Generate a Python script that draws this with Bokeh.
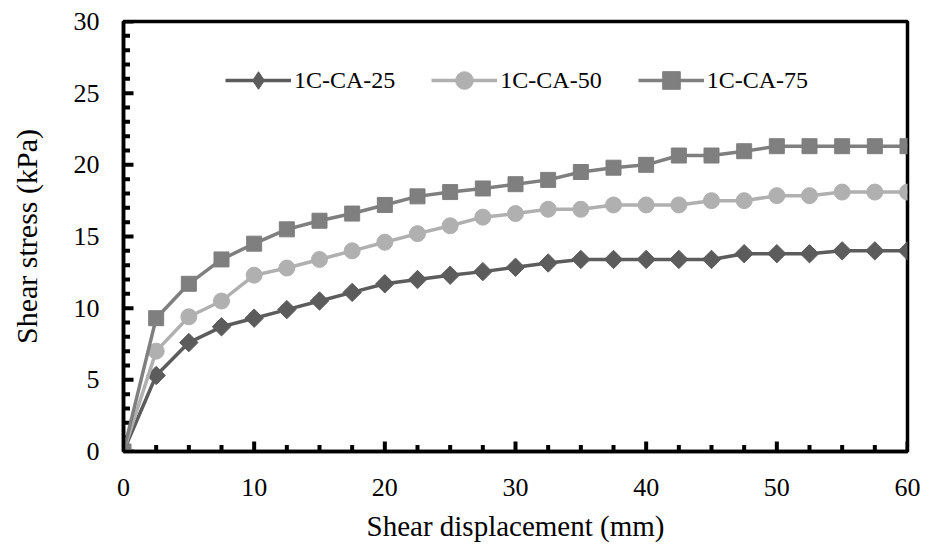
from bokeh.plotting import figure
from bokeh.models import SingleIntervalTicker, Legend, LegendItem
from bokeh.embed import file_html
from bokeh.resources import INLINE
import math

# ---- data ----
displacement = [0, 2.5, 5, 7.5, 10, 12.5, 15, 17.5, 20, 22.5, 25, 27.5, 30,
                32.5, 35, 37.5, 40, 42.5, 45, 47.5, 50, 52.5, 55, 57.5, 60]
ca25 = [0, 5.3, 7.6, 8.7, 9.3, 9.9, 10.5, 11.1, 11.7, 12.0, 12.3, 12.55, 12.85,
        13.15, 13.4, 13.4, 13.4, 13.4, 13.4, 13.8, 13.8, 13.8, 14.0, 14.0, 14.0]
ca50 = [0, 7.0, 9.4, 10.5, 12.3, 12.8, 13.4, 14.0, 14.6, 15.2, 15.75, 16.35, 16.6,
        16.9, 16.9, 17.2, 17.2, 17.2, 17.5, 17.5, 17.85, 17.85, 18.1, 18.1, 18.1]
ca75 = [0, 9.3, 11.7, 13.4, 14.5, 15.5, 16.1, 16.6, 17.2, 17.8, 18.1, 18.35, 18.65,
        18.95, 19.5, 19.8, 20.0, 20.65, 20.65, 20.95, 21.3, 21.3, 21.3, 21.3, 21.3]
series_names = ["1C-CA-25", "1C-CA-50", "1C-CA-75"]
x_title = "Shear displacement (mm)"
y_title = "Shear stress (kPa)"

x_major_ticks = [0, 10, 20, 30, 40, 50, 60]
x_minor_ticks = [2.5, 5, 7.5, 12.5, 15, 17.5, 22.5, 25, 27.5, 32.5, 35, 37.5,
                 42.5, 45, 47.5, 52.5, 55, 57.5]
y_major_ticks = [0, 5, 10, 15, 20, 25, 30]
y_minor_ticks = [1, 2, 3, 4, 6, 7, 8, 9, 11, 12, 13, 14, 16, 17, 18, 19,
                 21, 22, 23, 24, 26, 27, 28, 29]

FONT = "Liberation Serif"

p = figure(width=920, height=544, output_backend="svg", toolbar_location=None,
           x_range=(0, 60), y_range=(0, 30),
           min_border_left=123, min_border_right=13, min_border_top=21, min_border_bottom=92)
p.grid.visible = False
p.outline_line_color = "black"
p.outline_line_width = 3.5

p.xaxis.ticker = SingleIntervalTicker(interval=10, num_minor_ticks=4)
p.yaxis.ticker = SingleIntervalTicker(interval=5, num_minor_ticks=5)

for ax in (p.xaxis[0], p.yaxis[0]):
    ax.axis_line_width = 3.5
    ax.axis_line_color = "black"
    ax.major_tick_in = 0
    ax.major_tick_out = 0
    ax.minor_tick_in = 0
    ax.minor_tick_out = 0
    ax.major_label_text_font = FONT
    ax.major_label_text_font_size = "26px"
    ax.major_label_text_color = "black"
    ax.axis_label_text_font = FONT
    ax.axis_label_text_font_style = "normal"
    ax.axis_label_text_color = "black"

p.xaxis.axis_label = x_title
p.yaxis.axis_label = y_title
p.xaxis.axis_label_text_font_size = "29px"
p.yaxis.axis_label_text_font_size = "30px"
p.xaxis.major_label_standoff = 27
p.xaxis.axis_label_standoff = 11
p.yaxis.major_label_standoff = 24
p.yaxis.axis_label_standoff = 28

# inward tick marks (the outer half of each bar is clipped away by the frame)
p.rect(x_major_ticks, [0] * len(x_major_ticks), width=4, height=20,
       width_units="screen", height_units="screen", fill_color="black", line_color=None)
p.rect(x_minor_ticks, [0] * len(x_minor_ticks), width=4, height=13,
       width_units="screen", height_units="screen", fill_color="black", line_color=None)
p.rect([0] * len(y_major_ticks), y_major_ticks, width=20, height=4,
       width_units="screen", height_units="screen", fill_color="black", line_color=None)
p.rect([0] * len(y_minor_ticks), y_minor_ticks, width=13, height=4,
       width_units="screen", height_units="screen", fill_color="black", line_color=None)

colors = ["#5c5c5c", "#b0b0b0", "#7f7f7f"]
nan = float("nan")
items = []

l1 = p.line(displacement, ca25, line_color=colors[0], line_width=3.5)
m1 = p.scatter(displacement, ca25, marker="square", angle=math.pi / 4, size=13,
               fill_color=colors[0], line_color=colors[0])
# legend proxy (a single NaN point, never drawn) so that the legend shows a diamond
k1 = p.scatter([nan], [nan], marker="diamond", size=16,
               fill_color=colors[0], line_color=colors[0])
items.append(LegendItem(label=series_names[0], renderers=[l1, k1]))

l2 = p.line(displacement, ca50, line_color=colors[1], line_width=3.5)
m2 = p.scatter(displacement, ca50, marker="circle", size=16,
               fill_color=colors[1], line_color=colors[1])
items.append(LegendItem(label=series_names[1], renderers=[l2, m2]))

l3 = p.line(displacement, ca75, line_color=colors[2], line_width=3.5)
m3 = p.scatter(displacement, ca75, marker="square", size=15,
               fill_color=colors[2], line_color=colors[2])
items.append(LegendItem(label=series_names[2], renderers=[l3, m3]))

legend = Legend(items=items, orientation="horizontal", location=(102, 349),
                glyph_width=66, glyph_height=44, label_standoff=3, spacing=36,
                padding=0, margin=0, border_line_alpha=0, background_fill_alpha=0,
                label_text_font=FONT, label_text_font_size="24px",
                label_text_color="black")
p.add_layout(legend, "center")

open("out.html", "w").write(file_html(p, INLINE))
